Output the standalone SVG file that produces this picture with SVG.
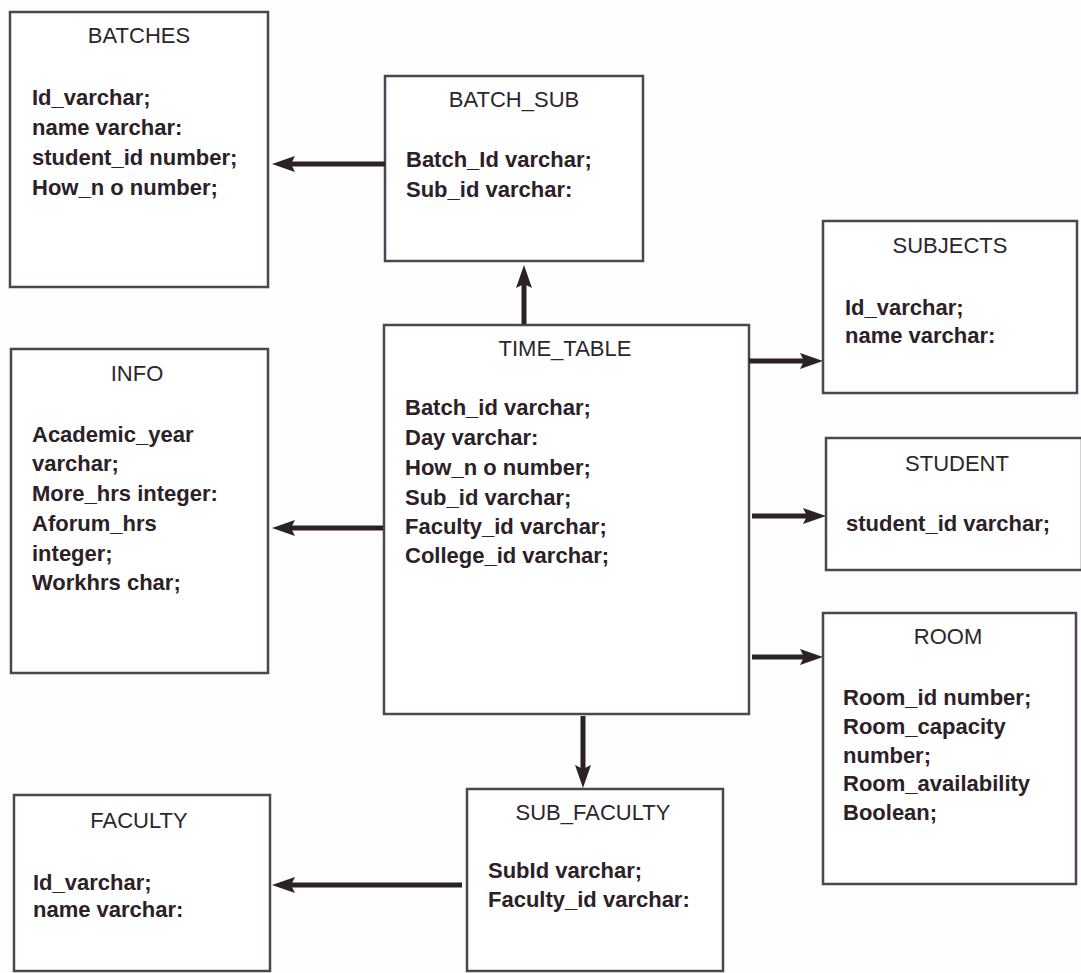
<svg xmlns="http://www.w3.org/2000/svg" width="1081" height="973" viewBox="0 0 1081 973">
<style>
.box{fill:#ffffff;stroke:#4d4650;stroke-width:2.5}
.title{font-family:"Liberation Sans",Arial,sans-serif;font-size:22px;fill:#2e252c;text-anchor:middle}
.f{font-family:"Liberation Sans",Arial,sans-serif;font-size:22px;font-weight:bold;fill:#2b2127}
.c{stroke:#2b2127;stroke-width:5;fill:none;marker-end:url(#ah)}
</style>
<defs>
<marker id="ah" markerUnits="userSpaceOnUse" markerWidth="24" markerHeight="18" viewBox="0 0 24 18" refX="4" refY="9" orient="auto">
<path d="M0,1 L23,9 L0,17 L4,9 z" fill="#2b2127"/>
</marker>
</defs>
<rect width="1081" height="973" fill="#fdfdfd"/>
<g id="BATCHES">
<rect class="box" x="10" y="12" width="258" height="275"/>
<text class="title" x="139" y="43">BATCHES</text>
<text class="f" x="32" y="105">Id_varchar;</text>
<text class="f" x="32" y="135">name varchar:</text>
<text class="f" x="32" y="165">student_id number;</text>
<text class="f" x="32" y="195">How_n o number;</text>
</g>
<g id="BATCH_SUB">
<rect class="box" x="385" y="76" width="258" height="185"/>
<text class="title" x="514" y="107">BATCH_SUB</text>
<text class="f" x="406" y="167">Batch_Id varchar;</text>
<text class="f" x="406" y="197">Sub_id varchar:</text>
</g>
<g id="TIME_TABLE">
<rect class="box" x="384" y="325" width="365" height="389"/>
<text class="title" x="565" y="356">TIME_TABLE</text>
<text class="f" x="405" y="415">Batch_id varchar;</text>
<text class="f" x="405" y="445">Day varchar:</text>
<text class="f" x="405" y="475">How_n o number;</text>
<text class="f" x="405" y="505">Sub_id varchar;</text>
<text class="f" x="405" y="534">Faculty_id varchar;</text>
<text class="f" x="405" y="563">College_id varchar;</text>
</g>
<g id="SUBJECTS">
<rect class="box" x="823" y="221" width="254" height="172"/>
<text class="title" x="950" y="253">SUBJECTS</text>
<text class="f" x="845" y="315">Id_varchar;</text>
<text class="f" x="845" y="343">name varchar:</text>
</g>
<g id="STUDENT">
<rect class="box" x="826" y="438" width="256" height="132"/>
<text class="title" x="957" y="471">STUDENT</text>
<text class="f" x="846" y="531">student_id varchar;</text>
</g>
<g id="ROOM">
<rect class="box" x="823" y="613" width="253" height="271"/>
<text class="title" x="948" y="644">ROOM</text>
<text class="f" x="843" y="705">Room_id number;</text>
<text class="f" x="843" y="734">Room_capacity</text>
<text class="f" x="843" y="763">number;</text>
<text class="f" x="843" y="791">Room_availability</text>
<text class="f" x="843" y="820">Boolean;</text>
</g>
<g id="INFO">
<rect class="box" x="11" y="349" width="257" height="324"/>
<text class="title" x="137" y="381">INFO</text>
<text class="f" x="32" y="442">Academic_year</text>
<text class="f" x="32" y="471">varchar;</text>
<text class="f" x="32" y="501">More_hrs integer:</text>
<text class="f" x="32" y="531">Aforum_hrs</text>
<text class="f" x="32" y="561">integer;</text>
<text class="f" x="32" y="590">Workhrs char;</text>
</g>
<g id="FACULTY">
<rect class="box" x="14" y="795" width="256" height="176"/>
<text class="title" x="139" y="828">FACULTY</text>
<text class="f" x="33" y="890">Id_varchar;</text>
<text class="f" x="33" y="917">name varchar:</text>
</g>
<g id="SUB_FACULTY">
<rect class="box" x="467" y="789" width="256" height="182"/>
<text class="title" x="593" y="820">SUB_FACULTY</text>
<text class="f" x="488" y="878">SubId varchar;</text>
<text class="f" x="488" y="907">Faculty_id varchar:</text>
</g>
<g id="connectors">
<line class="c" x1="385" y1="164" x2="291" y2="164"/>
<line class="c" x1="524" y1="324" x2="524" y2="284"/>
<line class="c" x1="749" y1="361" x2="804" y2="361"/>
<line class="c" x1="752" y1="516" x2="807" y2="516"/>
<line class="c" x1="752" y1="657" x2="804" y2="657"/>
<line class="c" x1="383" y1="528" x2="291" y2="528"/>
<line class="c" x1="583" y1="716" x2="583" y2="769"/>
<line class="c" x1="462" y1="885" x2="291" y2="885"/>
</g>
</svg>
